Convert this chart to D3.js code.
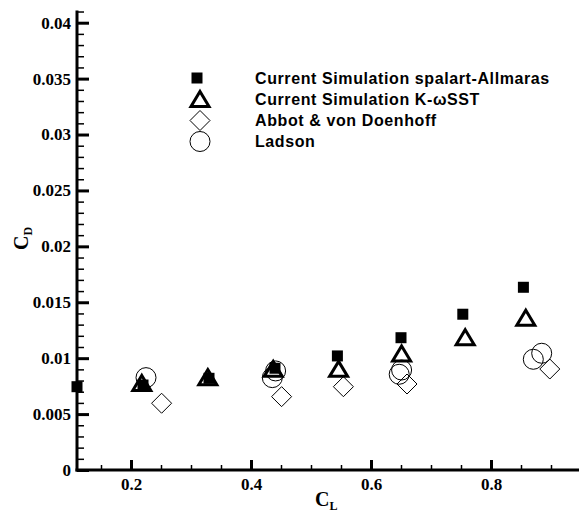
<!DOCTYPE html>
<html>
<head>
<meta charset="utf-8">
<script src="https://cdn.jsdelivr.net/npm/d3@7"></script>
<style>
  body { margin: 0; background: #fff; }
</style>
</head>
<body>
<div id="chart"></div>
<script>
// Data (CL, CD)
var saCL = [0.11, 0.22, 0.33, 0.44, 0.544, 0.65, 0.753, 0.854];
var saCD = [0.00745, 0.0076, 0.0082, 0.0091, 0.0102, 0.01183, 0.01393, 0.01634];

var sstCL = [0.218, 0.328, 0.437, 0.546, 0.651, 0.757, 0.858];
var sstCD = [0.00774, 0.00826, 0.0090, 0.0090, 0.01038, 0.01183, 0.01357];

var abbotCL = [0.251, 0.451, 0.554, 0.66, 0.898];
var abbotCD = [0.00597, 0.00656, 0.00745, 0.00769, 0.00903];

var ladsonCL = [0.225, 0.4355, 0.441, 0.647, 0.651, 0.8705, 0.8845];
var ladsonCD = [0.00826, 0.00826, 0.00886, 0.00856, 0.00894, 0.0099, 0.01044];

var xMajor = [0.2, 0.4, 0.6, 0.8];
var yMajor = [0, 0.005, 0.01, 0.015, 0.02, 0.025, 0.03, 0.035, 0.04];

var legendNames = ["Current Simulation spalart-Allmaras", "Current Simulation K-\u03c9SST",
                   "Abbot & von Doenhoff", "Ladson"];

var w = 579, h = 515;
var left = 77, bottom = 470;
var serif = "'Liberation Serif', 'Times New Roman', serif";
var sans = "'Liberation Sans', Arial, sans-serif";

var svg = d3.select("#chart").append("svg")
    .attr("width", w)
    .attr("height", h);

// scales
var x = d3.scaleLinear().domain([0.11, 0.95]).range([left, left + 0.84 * 600]);
var y = d3.scaleLinear().domain([0, 0.04]).range([bottom, 22.7]);

var xMinor = d3.range(0.15, 0.95, 0.05).filter(function (v) {
    return xMajor.every(function (m) { return Math.abs(m - v) > 1e-6; });
});
var yMinor = d3.range(0.001, 0.0415, 0.001).filter(function (v) {
    return Math.abs(v / 0.005 - Math.round(v / 0.005)) > 1e-6;
});

// minor ticks
svg.append("g")
    .attr("transform", "translate(" + left + ",0)")
    .call(d3.axisLeft(y).tickValues(yMinor).tickSize(-7).tickSizeOuter(0).tickFormat(""))
    .call(function (g) { g.select(".domain").remove(); })
    .selectAll("line").attr("stroke-width", 1.5);
svg.append("g")
    .attr("transform", "translate(0," + bottom + ")")
    .call(d3.axisBottom(x).tickValues(xMinor).tickSize(-5).tickSizeOuter(0).tickFormat(""))
    .call(function (g) { g.select(".domain").remove(); })
    .selectAll("line").attr("stroke-width", 1.5);

// major ticks with labels
var yAxis = svg.append("g")
    .attr("transform", "translate(" + left + ",0)")
    .call(d3.axisLeft(y).tickValues(yMajor).tickSize(-12).tickSizeOuter(0).tickPadding(6)
        .tickFormat(function (d) { return String(+d.toFixed(3)); }));
yAxis.select(".domain").remove();
yAxis.selectAll("line").attr("stroke-width", 3);
yAxis.selectAll("text")
    .attr("fill", "#000")
    .style("font-family", serif)
    .style("font-weight", "bold")
    .style("font-size", "17px");

var xAxis = svg.append("g")
    .attr("transform", "translate(0," + bottom + ")")
    .call(d3.axisBottom(x).tickValues(xMajor).tickSize(-10).tickSizeOuter(0).tickPadding(8)
        .tickFormat(d3.format(".1f")));
xAxis.select(".domain").remove();
xAxis.selectAll("line").attr("stroke-width", 3);
xAxis.selectAll("text")
    .attr("fill", "#000")
    .style("font-family", serif)
    .style("font-weight", "bold")
    .style("font-size", "17px");

// axis lines
svg.append("line")
    .attr("x1", left).attr("x2", left)
    .attr("y1", y(0.0411)).attr("y2", bottom + 1.5)
    .attr("stroke", "#000").attr("stroke-width", 3);
svg.append("line")
    .attr("x1", left - 1.5).attr("x2", w)
    .attr("y1", bottom).attr("y2", bottom)
    .attr("stroke", "#000").attr("stroke-width", 3);

// axis titles
var yt = svg.append("text")
    .attr("transform", "translate(28,250) rotate(-90)")
    .style("font-family", serif)
    .style("font-weight", "bold")
    .style("font-size", "20px");
yt.append("tspan").text("C");
yt.append("tspan").style("font-size", "12px").attr("dy", 4).text("D");

var xt = svg.append("text")
    .attr("x", 315).attr("y", 506)
    .style("font-family", serif)
    .style("font-weight", "bold")
    .style("font-size", "20px");
xt.append("tspan").text("C");
xt.append("tspan").style("font-size", "12px").attr("dy", 4).text("L");

// marker shapes
var trianglePath = "M0,-8L9,7L-9,7Z";
var diamondPath = "M0,-10L10,0L0,10L-10,0Z";

function pairs(a, b) { return a.map(function (v, i) { return [v, b[i]]; }); }

// Ladson circles
svg.append("g").selectAll("circle")
    .data(pairs(ladsonCL, ladsonCD))
    .enter().append("circle")
    .attr("cx", function (d) { return x(d[0]); })
    .attr("cy", function (d) { return y(d[1]); })
    .attr("r", 10)
    .attr("fill", "none").attr("stroke", "#000").attr("stroke-width", 1);

// Abbot diamonds
svg.append("g").selectAll("path")
    .data(pairs(abbotCL, abbotCD))
    .enter().append("path")
    .attr("d", diamondPath)
    .attr("transform", function (d) { return "translate(" + x(d[0]) + "," + y(d[1]) + ")"; })
    .attr("fill", "none").attr("stroke", "#000").attr("stroke-width", 1);

// K-omega SST triangles
svg.append("g").selectAll("path")
    .data(pairs(sstCL, sstCD))
    .enter().append("path")
    .attr("d", trianglePath)
    .attr("transform", function (d) { return "translate(" + x(d[0]) + "," + y(d[1]) + ")"; })
    .attr("fill", "none").attr("stroke", "#000").attr("stroke-width", 3);

// Spalart-Allmaras squares
svg.append("g").selectAll("rect")
    .data(pairs(saCL, saCD))
    .enter().append("rect")
    .attr("x", function (d) { return x(d[0]) - 5.5; })
    .attr("y", function (d) { return y(d[1]) - 5.5; })
    .attr("width", 11).attr("height", 11)
    .attr("fill", "#000");

// legend
var legY = [78, 99.5, 120.5, 141.5];
var leg = svg.append("g");
leg.append("rect").attr("x", 197 - 5.5).attr("y", legY[0] - 5.5).attr("width", 11).attr("height", 11).attr("fill", "#000");
leg.append("path").attr("d", trianglePath).attr("transform", "translate(200," + legY[1] + ")")
    .attr("fill", "none").attr("stroke", "#000").attr("stroke-width", 3);
leg.append("path").attr("d", diamondPath).attr("transform", "translate(200," + legY[2] + ")")
    .attr("fill", "none").attr("stroke", "#000").attr("stroke-width", 1);
leg.append("circle").attr("cx", 200).attr("cy", legY[3]).attr("r", 10)
    .attr("fill", "none").attr("stroke", "#000").attr("stroke-width", 1);

leg.selectAll("text.name")
    .data(legendNames)
    .enter().append("text")
    .attr("class", "name")
    .attr("x", 255)
    .attr("y", function (d, i) { return legY[i] + 5.5; })
    .style("font-family", sans)
    .style("font-weight", "bold")
    .style("font-size", "16px")
    .style("letter-spacing", "0.6px")
    .text(function (d) { return d; });
</script>
</body>
</html>
